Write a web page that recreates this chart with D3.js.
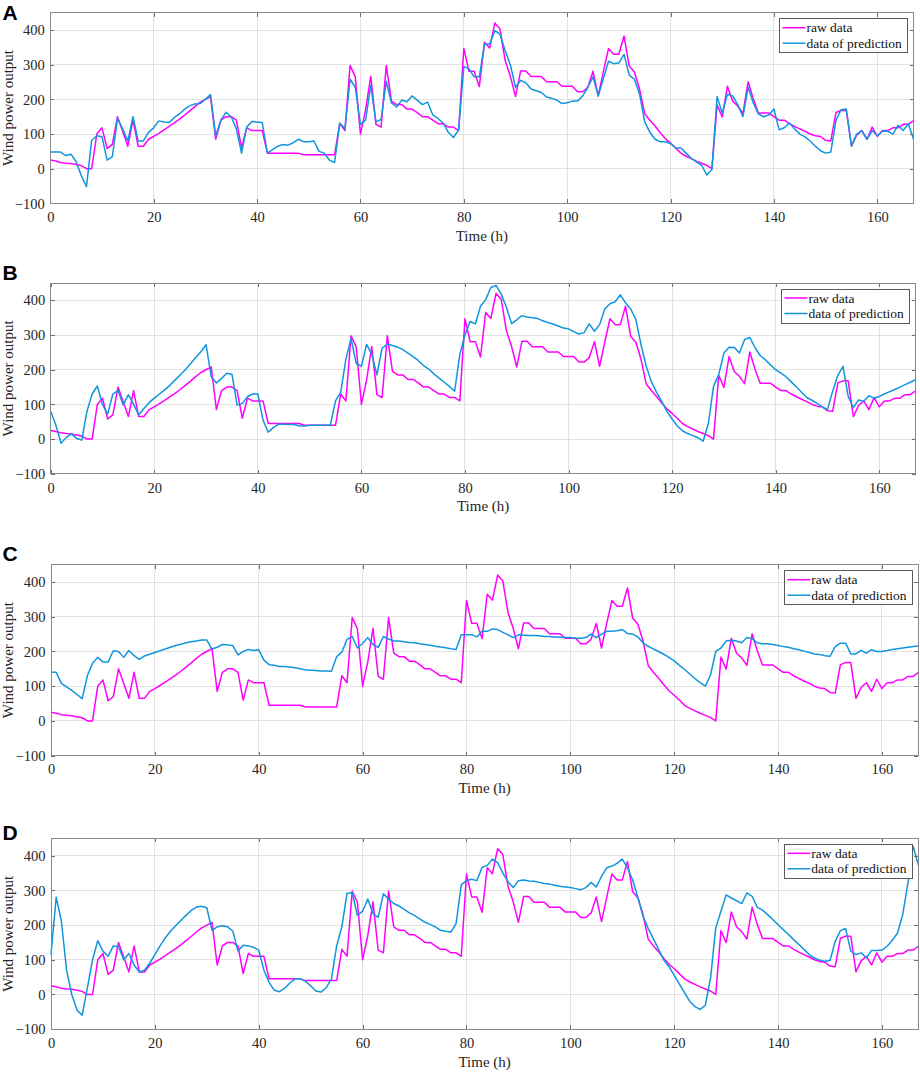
<!DOCTYPE html>
<html>
<head>
<meta charset="utf-8">
<script src="https://cdn.jsdelivr.net/npm/d3@7/dist/d3.min.js"></script>
<style>
  body { margin: 0; background: #fff; }
  svg { display: block; font-family: "Liberation Serif", "Times New Roman", serif; }
  .grid line { stroke: #e2e2e2; stroke-width: 1; shape-rendering: crispEdges; }
  .frame { fill: none; stroke: #8a8a8a; stroke-width: 1; shape-rendering: crispEdges; }
  .axis .domain { display: none; }
  .axis line { stroke: #6e6e6e; shape-rendering: crispEdges; }
  .axis text { fill: #262626; font-size: 14.5px; font-family: "Liberation Serif", serif; }
  .series { fill: none; stroke-width: 1.5; stroke-linejoin: round; }
  .xlabel, .ylabel { fill: #262626; font-size: 15px; }
  .panel-label { font-family: "Liberation Sans", Arial, sans-serif; font-weight: bold; font-size: 21px; fill: #000; }
  .legend-box { fill: #fff; stroke: #5a5a5a; stroke-width: 1; shape-rendering: crispEdges; }
  .legend-text { font-size: 13.5px; fill: #111; }
</style>
</head>
<body>
<div id="chart"></div>
<script>
// raw wind power, hour 0..167 (same in every panel)
const rawData = [25,22,18,16,15,12,9,0,0,100,
  118,58,70,150,108,65,140,65,65,85,
  93,102,112,122,132,143,155,167,180,192,
  200,208,85,140,150,150,140,60,118,110,
  110,110,45,45,45,45,45,45,45,40,
  40,40,40,40,40,40,130,110,298,265,
  100,170,267,128,120,298,195,185,185,172,
  172,162,150,150,140,130,130,120,120,110,
  347,281,281,237,365,348,420,403,312,267,
  208,282,282,266,266,266,251,251,251,238,
  238,238,222,222,235,281,210,280,347,330,
  330,383,296,279,230,159,140,123,104,87,
  74,60,45,36,29,22,16,10,0,184,
  149,238,195,181,160,251,202,161,161,161,
  150,140,140,130,122,115,108,100,95,93,
  82,80,162,168,168,65,97,110,85,120,
  93,110,110,118,118,128,128,139]

const predA = [48,48,48,38,42,20,-20,-52,82,95,
  92,25,35,145,115,80,150,80,80,105,
  118,138,135,133,148,158,172,182,187,188,
  200,214,95,140,163,150,115,45,120,136,
  135,133,45,55,65,70,68,75,85,78,
  78,80,50,45,25,18,132,115,258,235,
  128,140,240,135,142,252,190,178,198,193,
  210,198,185,192,155,145,132,105,90,112,
  295,288,265,265,360,360,398,388,340,300,
  235,255,248,230,225,220,207,203,198,188,
  190,195,195,210,235,265,210,260,310,303,
  305,330,270,258,215,135,105,85,78,78,
  72,60,60,45,30,20,10,-18,-2,208,
  160,215,210,185,150,235,190,158,150,155,
  172,112,118,132,115,100,92,80,65,52,
  45,48,140,170,172,65,100,110,85,110,
  95,108,108,100,125,110,130,85]

const predB = [80,40,-12,5,15,2,-3,80,130,153,
  100,72,130,140,98,128,100,70,88,105,
  118,130,142,155,170,185,200,217,235,252,
  272,180,162,175,190,187,98,103,122,130,
  130,55,20,33,43,43,42,42,38,38,
  40,40,40,40,40,110,135,230,290,218,
  210,273,245,185,262,274,270,265,258,248,
  238,226,212,202,188,176,164,152,138,243,
  301,339,332,383,402,437,443,418,380,333,
  344,356,352,350,348,341,336,332,326,320,
  318,310,303,307,332,311,330,375,390,396,
  416,393,375,345,272,210,165,135,109,80,
  58,38,24,16,10,4,-6,45,152,186,
  248,265,264,248,287,293,264,241,229,214,
  200,190,180,165,150,135,120,112,103,93,
  85,138,184,210,123,91,113,109,125,118,
  123,130,137,143,150,157,164,171]

const predC = [140,140,108,98,88,76,64,130,166,183,
  170,170,202,200,183,203,188,177,187,192,
  197,202,207,212,217,221,225,228,230,233,
  233,207,212,220,219,217,190,200,206,203,
  205,175,162,160,157,157,155,153,150,147,
  146,145,144,144,143,185,198,235,243,210,
  223,240,220,212,243,236,230,230,228,226,
  225,222,220,218,215,213,211,208,206,248,
  248,248,242,258,258,265,263,255,248,240,
  248,247,246,246,245,243,243,242,241,240,
  240,238,238,240,250,240,250,258,258,260,
  263,252,250,242,225,215,207,200,192,183,
  173,160,148,135,122,110,100,133,200,210,
  230,232,230,225,240,237,225,222,222,220,
  217,214,212,208,205,201,197,193,191,188,
  186,214,224,224,193,193,203,195,205,200,
  200,203,206,208,210,212,214,216]

const predD = [115,280,211,70,0,-45,-60,19,100,155,
  125,110,140,138,100,118,85,65,70,90,
  115,140,163,182,198,213,228,242,252,254,
  250,185,195,198,195,183,125,142,140,136,
  128,70,35,12,8,18,33,45,45,38,
  25,10,7,20,45,140,195,292,293,228,
  240,275,233,222,290,275,262,255,245,235,
  228,218,208,202,195,185,182,180,204,316,
  328,332,328,366,372,390,380,350,325,308,
  328,330,327,326,323,320,318,315,312,310,
  308,305,302,308,323,310,340,365,370,378,
  390,365,330,280,225,190,160,130,99,80,
  55,30,5,-20,-35,-43,-31,48,192,240,
  287,278,270,262,293,283,251,243,230,216,
  201,187,173,158,144,130,115,105,99,96,
  98,153,184,190,125,115,120,105,127,127,
  128,139,156,177,230,321,427,374]

const panelLabels = ['A', 'B', 'C', 'D']
const seriesNames = ['raw data', 'data of prediction']
const xTicks = [0, 20, 40, 60, 80, 100, 120, 140, 160]
const yTicks = [-100, 0, 100, 200, 300, 400]
const xDomain = [0, 167]
const yDomain = [-100, 450]

const colors = ['#ff00ff', '#1196dd']
const width = 920
const height = 1072

// plot boxes of the four panels (pixel layout of the figure)
const boxes = [
  {left: 50.3, right: 913.5, top: 12.7, bottom: 203.4, labelY: 19.5},
  {left: 50.7, right: 915.5, top: 283, bottom: 473.8, labelY: 280},
  {left: 51, right: 918.3, top: 564.7, bottom: 755.6, labelY: 561},
  {left: 51, right: 918.3, top: 838.3, bottom: 1029.2, labelY: 840}
]
const preds = [predA, predB, predC, predD]

const svg = d3.select('#chart').append('svg')
  .attr('width', width)
  .attr('height', height)

panelLabels.forEach((label, i) => {
  const b = boxes[i]
  const series = [rawData, preds[i]]

  const x = d3.scaleLinear().domain(xDomain).range([b.left, b.right])
  const y = d3.scaleLinear().domain(yDomain).range([b.bottom, b.top])

  const g = svg.append('g').attr('class', 'panel')

  // grid
  const grid = g.append('g').attr('class', 'grid')
  grid.selectAll('.vgrid')
    .data(xTicks.filter(d => d > xDomain[0]))
    .enter().append('line')
    .attr('x1', d => x(d)).attr('x2', d => x(d))
    .attr('y1', b.top).attr('y2', b.bottom)
  grid.selectAll('.hgrid')
    .data(yTicks.filter(d => d > yDomain[0]))
    .enter().append('line')
    .attr('x1', b.left).attr('x2', b.right)
    .attr('y1', d => y(d)).attr('y2', d => y(d))

  // lines
  const line = d3.line()
    .x((d, j) => x(j))
    .y(d => y(d))

  g.selectAll('.series')
    .data(series)
    .enter().append('path')
    .attr('class', 'series')
    .attr('stroke', (d, j) => colors[j])
    .attr('d', line)

  // axes, MATLAB style: ticks pointing inward on all four sides
  g.append('g').attr('class', 'axis')
    .attr('transform', `translate(0, ${b.bottom})`)
    .call(d3.axisBottom(x).tickValues(xTicks).tickSizeInner(-4).tickSizeOuter(0).tickPadding(8.5))
  g.append('g').attr('class', 'axis')
    .attr('transform', `translate(0, ${b.top})`)
    .call(d3.axisTop(x).tickValues(xTicks).tickSizeInner(-4).tickSizeOuter(0).tickFormat(''))
  g.append('g').attr('class', 'axis')
    .attr('transform', `translate(${b.left}, 0)`)
    .call(d3.axisLeft(y).tickValues(yTicks).tickSizeInner(-4).tickSizeOuter(0).tickPadding(5.5))
  g.append('g').attr('class', 'axis')
    .attr('transform', `translate(${b.right}, 0)`)
    .call(d3.axisRight(y).tickValues(yTicks).tickSizeInner(-4).tickSizeOuter(0).tickFormat(''))

  g.append('rect')
    .attr('class', 'frame')
    .attr('x', b.left).attr('y', b.top)
    .attr('width', b.right - b.left)
    .attr('height', b.bottom - b.top)

  // axis titles
  g.append('text')
    .attr('class', 'xlabel')
    .attr('x', (b.left + b.right) / 2)
    .attr('y', b.bottom + 37.5)
    .attr('text-anchor', 'middle')
    .text('Time (h)')

  g.append('text')
    .attr('class', 'ylabel')
    .attr('transform', `translate(13, ${(b.top + b.bottom) / 2}) rotate(-90)`)
    .attr('text-anchor', 'middle')
    .text('Wind power output')

  g.append('text')
    .attr('class', 'panel-label')
    .attr('x', 2.5)
    .attr('y', b.labelY)
    .text(label)

  // legend
  const legW = 128
  const legH = 34
  const legend = g.append('g')
    .attr('transform', `translate(${b.right - legW - 6}, ${b.top + 6})`)

  legend.append('rect')
    .attr('class', 'legend-box')
    .attr('width', legW)
    .attr('height', legH)

  const item = legend.selectAll('.legend-item')
    .data(seriesNames)
    .enter().append('g')
    .attr('class', 'legend-item')
    .attr('transform', (d, j) => `translate(0, ${9 + j * 15.5})`)

  item.append('line')
    .attr('x1', 3).attr('x2', 26)
    .attr('y1', 0).attr('y2', 0)
    .attr('stroke', (d, j) => colors[j])
    .attr('stroke-width', 1.5)

  item.append('text')
    .attr('class', 'legend-text')
    .attr('x', 27)
    .attr('y', 4.5)
    .text(d => d)
})
</script>
</body>
</html>
